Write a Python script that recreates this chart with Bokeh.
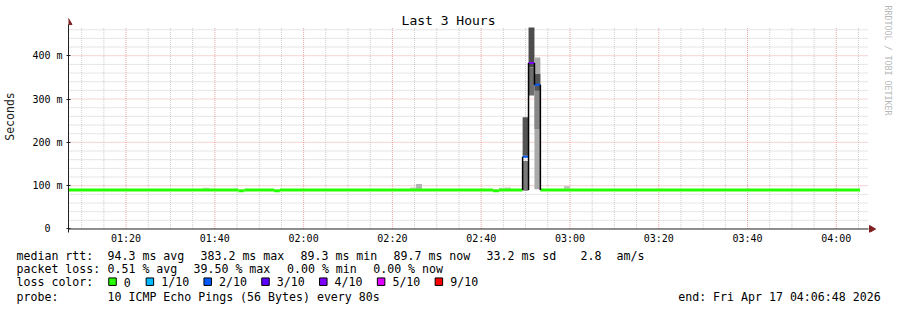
import math
from bokeh.plotting import figure
from bokeh.models import Range1d, FixedTicker, ColumnDataSource
from bokeh.layouts import column
from bokeh.embed import file_html
from bokeh.resources import INLINE
from bokeh.core.properties import value


def tmin(s):
    parts = [int(v) for v in s.split(":")]
    while len(parts) < 3:
        parts.append(0)
    h, m, sec = parts
    return h * 60 + m + sec / 60.0


# ---------------- data ----------------
view_start = "01:07:02"
view_end = "04:07:02"
y_max = 465
time_labels = ["01:20", "01:40", "02:00", "02:20", "02:40", "03:00", "03:20", "03:40", "04:00"]
y_tick_values = [0, 100, 200, 300, 400]
y_tick_labels = ["0\u00a0\u00a0", "100 m", "200 m", "300 m", "400 m"]

loss_counts = [0, 1, 2, 3, 4, 5, 9]
loss_labels = ["0", "1/10", "2/10", "3/10", "4/10", "5/10", "9/10"]
loss_colors = ["#26ff00", "#00b8ff", "#0059ff", "#5e00ff", "#7e00ff", "#dd00ff", "#ff0000"]

# median rtt runs (ms) and lost pings out of 10
run_start = ["01:06:40", "01:45:20", "01:46:40", "01:53:20", "01:54:40", "02:42:40", "02:44:00",
             "02:49:20", "02:50:40", "02:52:00", "02:53:20"]
run_end = ["01:45:20", "01:46:40", "01:53:20", "01:54:40", "02:42:40", "02:44:00", "02:49:20",
           "02:50:40", "02:52:00", "02:53:20", "04:05:20"]
run_median = [89.9, 88.4, 89.9, 88.4, 89.9, 88.4, 89.9, 167.0, 383.2, 333.0, 89.9]
run_loss = [0, 0, 0, 0, 0, 0, 0, 2, 4, 2, 0]

# smoke (ping spread) boxes: step start, step end, low ms, high ms, shade
smoke_start = ["01:37:20", "02:24:00", "02:25:20", "02:44:00", "02:45:20", "02:58:40",
               "02:49:20", "02:49:20",
               "02:50:40", "02:50:40",
               "02:52:00", "02:52:00", "02:52:00"]
smoke_end = ["01:38:40", "02:25:20", "02:26:40", "02:45:20", "02:46:40", "03:00:00",
             "02:50:40", "02:50:40",
             "02:52:00", "02:52:00",
             "02:53:20", "02:53:20", "02:53:20"]
smoke_low = [89, 89, 89, 89, 89, 89,
             169, 88,
             373, 308,
             92, 231, 319]
smoke_high = [95, 96, 104, 95, 96, 99,
              258, 157,
              465, 373,
              396, 319, 358]
smoke_shade = ["#cccccc", "#c8c8c8", "#b4b4b4", "#d4d4d4", "#cccccc", "#c4c4c4",
               "#555555", "#7a7a7a",
               "#4c4c4c", "#6e6e6e",
               "#aaaaaa", "#888888", "#555555"]

# black connectors at step edges: time, low ms, high ms
conn_time = ["02:49:20", "02:50:40", "02:52:00", "02:53:20"]
conn_low = [89.9, 89.9, 333.0, 89.9]
conn_high = [167.0, 383.2, 383.2, 333.0]

legend_median = ["median rtt:", "94.3 ms avg", "383.2 ms max", "89.3 ms min", "89.7 ms now",
                 "33.2 ms sd", "2.8", "am/s"]
legend_loss = ["packet loss:", "0.51 % avg", "39.50 % max", "0.00 % min", "0.00 % now"]
legend_loss_title = "loss color:"
legend_probe = ["probe:", "10 ICMP Echo Pings (56 Bytes) every 80s", "end: Fri Apr 17 04:06:48 2026"]
title_text = "Last 3 Hours"
y_axis_title = "Seconds"
watermark = "RRDTOOL / TOBI OETIKER"

# ---------------- layout constants (page pixels) ----------------
W = 897
H_MAIN = 247
H_LEG = 310 - H_MAIN
FL = 67            # plot area left
PR = 867           # plot area right
PT = 27            # plot area top (y_max)
PB = 228           # plot area bottom (0 ms)
FB = 231.5         # frame bottom (a bit below the x axis for the arrow)
MONO = "DejaVu Sans Mono"

x0, x1 = tmin(view_start), tmin(view_end)
ppm = (PR - FL) / (x1 - x0)          # pixels per minute
ppv = (PB - PT) / y_max              # pixels per ms


def dx(px):
    return x0 + (px - FL) / ppm


def dy(py):
    return (PB - py) / ppv


color_of = dict(zip(loss_counts, loss_colors))

p = figure(width=W, height=H_MAIN,
           x_range=Range1d(x0, dx(W)), y_range=Range1d(dy(FB), dy(0)),
           output_backend="svg", toolbar_location=None,
           min_border_left=FL, min_border_right=0, min_border_top=0,
           min_border_bottom=int(H_MAIN - FB))
p.outline_line_color = None
p.background_fill_color = "white"
p.border_fill_color = "white"
p.xgrid.visible = False
p.ygrid.visible = False
p.frame_align = False

major_x = [tmin(t) for t in time_labels]
minor_x = []
t = math.ceil(x0 / 5.0) * 5
while t < x1:
    if all(abs(t - m) > 1e-6 for m in major_x):
        minor_x.append(t)
    t += 5
minor_y = [v for v in range(20, y_max, 20) if v % 100 != 0]
major_y = [v for v in y_tick_values if v > 0]

# grid lines (dotted), limited to the plot area
grid_minor = "#8f8f8f"
grid_major = "#de4f4f"
p.segment(x0=minor_x, y0=[0] * len(minor_x), x1=minor_x, y1=[y_max] * len(minor_x),
          line_color=grid_minor, line_alpha=0.45, line_dash="1 1", line_width=1)
p.segment(x0=[x0] * len(minor_y), y0=minor_y, x1=[x1] * len(minor_y), y1=minor_y,
          line_color=grid_minor, line_alpha=0.45, line_dash="1 1", line_width=1)
p.segment(x0=major_x, y0=[0] * len(major_x), x1=major_x, y1=[y_max] * len(major_x),
          line_color=grid_major, line_alpha=0.5, line_dash="1 1", line_width=1)
p.segment(x0=[x0] * len(major_y), y0=major_y, x1=[x1] * len(major_y), y1=major_y,
          line_color=grid_major, line_alpha=0.5, line_dash="1 1", line_width=1)

# axes
p.xaxis.ticker = FixedTicker(ticks=major_x)
p.xaxis.major_label_overrides = {tv: lab for tv, lab in zip(major_x, time_labels)}
p.xaxis.axis_line_color = None
p.xaxis.major_tick_line_color = None
p.xaxis.minor_tick_line_color = None
p.xaxis.major_tick_in = 0
p.xaxis.major_tick_out = 0
p.xaxis.major_label_standoff = 0
p.yaxis.ticker = FixedTicker(ticks=y_tick_values)
p.yaxis.major_label_overrides = {tv: lab for tv, lab in zip(y_tick_values, y_tick_labels)}
p.yaxis.bounds = (dy(FB), dy(24))
p.yaxis.axis_line_color = "#1f1f1f"
p.yaxis.major_tick_line_color = "#1f1f1f"
p.yaxis.minor_tick_line_color = None
p.yaxis.major_tick_in = 2
p.yaxis.major_tick_out = 2
p.yaxis.major_label_standoff = 4
for ax in (p.xaxis, p.yaxis):
    ax.major_label_text_font = MONO
    ax.major_label_text_font_size = "10px"
    ax.major_label_text_color = "#000000"
p.yaxis.axis_label = y_axis_title
p.yaxis.axis_label_text_font = MONO
p.yaxis.axis_label_text_font_size = "11.5px"
p.yaxis.axis_label_text_font_style = "normal"
p.yaxis.axis_label_text_color = "#202020"
p.yaxis.axis_label_standoff = 12

# x axis line
p.segment(x0=[dx(62)], y0=[0], x1=[dx(868)], y1=[0], line_color="#1f1f1f", line_width=1)

# smoke
smoke = ColumnDataSource(dict(left=[tmin(s) for s in smoke_start], right=[tmin(s) for s in smoke_end],
                              bottom=smoke_low, top=smoke_high, color=smoke_shade))
p.quad(left="left", right="right", bottom="bottom", top="top", fill_color="color",
       line_color=None, source=smoke)

# median line
med = ColumnDataSource(dict(
    x0=[tmin(s) for s in run_start], x1=[tmin(s) for s in run_end],
    y=run_median, color=[color_of[l] for l in run_loss],
    w=[3 if l == 0 else 2 for l in run_loss]))
p.segment(x0="x0", y0="y", x1="x1", y1="y", line_color="color", line_width="w", source=med)

conn = ColumnDataSource(dict(x=[tmin(s) for s in conn_time], lo=conn_low, hi=conn_high))
p.segment(x0="x", y0="lo", x1="x", y1="hi", line_color="black", line_width=1.5, source=conn)

# axis arrows
arrow_col = "#801f1f"
p.scatter(x=[x0], y=[dy(22)], marker="triangle", size=7, fill_color=arrow_col,
          line_color=arrow_col, angle=0)
p.scatter(x=[dx(871)], y=[0], marker="triangle", size=7, fill_color=arrow_col,
          line_color=arrow_col, angle=-math.pi / 2)

# title and watermark
p.text(x=[dx(447.5)], y=[dy(20)], text=[title_text], text_font=value(MONO), text_font_size="13px",
       text_align="center", text_baseline="middle", text_color="black")
p.text(x=[dx(887.5)], y=[dy(5)], text=[watermark], text_font=value(MONO), text_font_size="8.3px",
       angle=-math.pi / 2, text_align="left", text_baseline="middle", text_color="#b8b8b8")

# ---------------- legend figure ----------------
leg = figure(width=W, height=H_LEG, x_range=Range1d(0, W), y_range=Range1d(310, H_MAIN),
             output_backend="svg", toolbar_location=None, min_border=0,
             x_axis_location=None, y_axis_location=None)
leg.grid.visible = False
leg.outline_line_color = None
leg.frame_align = False

rows_y = [255, 268.4, 281.8, 296]
median_x = [16, 107, 200, 300, 393, 486, 580, 616]
loss_x = [16, 107, 193, 286.5, 372.7]
probe_x = [16, 107, 677.7]
box_x = [112, 149.4, 207.2, 265, 322.8, 380.6, 438.4]
label_x = [123.3, 160.7, 218.5, 276.3, 334.1, 391.9, 449.7]

tx, ty, tt = [], [], []
for items, xs, yy in [(legend_median, median_x, rows_y[0]), (legend_loss, loss_x, rows_y[1]),
                      (legend_probe, probe_x, rows_y[3])]:
    for txt, xx in zip(items, xs):
        tx.append(xx); ty.append(yy); tt.append(txt)
tx.append(16); ty.append(rows_y[2]); tt.append(legend_loss_title)
for lx, lab in zip(label_x, loss_labels):
    tx.append(lx); ty.append(rows_y[2]); tt.append(lab)
leg.text(x=tx, y=ty, text=tt, text_font=value(MONO), text_font_size="11.6px",
         text_baseline="middle", text_align="left", text_color="black")
leg.rect(x=box_x, y=[rows_y[2] - 0.6] * len(box_x), width=7.5, height=7.5,
         fill_color=loss_colors, line_color="black", line_width=1)

layout = column(p, leg, spacing=0)
open("out.html", "w").write(file_html(layout, INLINE))
